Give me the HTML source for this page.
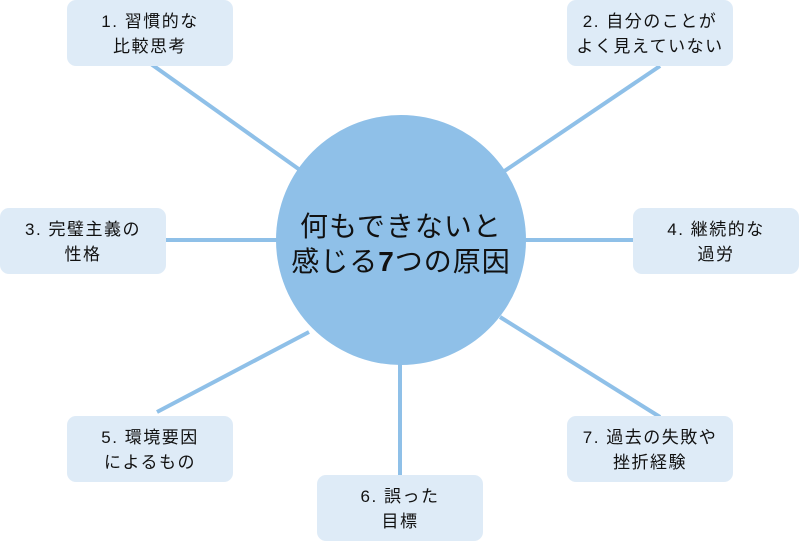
<!DOCTYPE html>
<html><head><meta charset="utf-8"><style>
body{margin:0;width:800px;height:541px;background:#fff;position:relative;overflow:hidden;font-family:"Liberation Sans","Noto Sans CJK JP",sans-serif}
.b{position:absolute;width:166px;height:66px;background:#deebf7;border-radius:9px;display:flex;align-items:center;justify-content:center;text-align:center;font-size:17px;letter-spacing:1.5px;line-height:25px;color:#111;white-space:nowrap}
.b div{margin-top:2px}
svg{position:absolute;left:0;top:0}
.c{position:absolute;left:276px;top:115px;width:250px;height:250px;display:flex;align-items:center;justify-content:center;text-align:center;font-size:28px;letter-spacing:1px;line-height:35px;color:#111;white-space:nowrap}
.c div{margin-top:7px}
</style></head><body>
<svg width="800" height="541">
<g stroke="#8fc0e8" stroke-width="4">
<line x1="151" y1="64" x2="300" y2="170"/>
<line x1="660" y1="66" x2="503" y2="172"/>
<line x1="166" y1="240" x2="280" y2="240"/>
<line x1="520" y1="240" x2="633" y2="240"/>
<line x1="157" y1="412" x2="309" y2="332"/>
<line x1="400" y1="362" x2="400" y2="475"/>
<line x1="500" y1="317" x2="660" y2="417"/>
</g>
<circle cx="401" cy="240" r="125" fill="#8fc0e8"/>
</svg>
<div class="c"><div>何もできないと<br>感じる<b>7</b>つの原因</div></div>
<div class="b" style="left:67px;top:0"><div>1. 習慣的な<br>比較思考</div></div>
<div class="b" style="left:567px;top:0"><div>2. 自分のことが<br>よく見えていない</div></div>
<div class="b" style="left:0;top:208px"><div>3. 完璧主義の<br>性格</div></div>
<div class="b" style="left:633px;top:208px"><div>4. 継続的な<br>過労</div></div>
<div class="b" style="left:67px;top:416px"><div>5. 環境要因<br>によるもの</div></div>
<div class="b" style="left:317px;top:475px"><div>6. 誤った<br>目標</div></div>
<div class="b" style="left:567px;top:416px"><div>7. 過去の失敗や<br>挫折経験</div></div>
</body></html>
